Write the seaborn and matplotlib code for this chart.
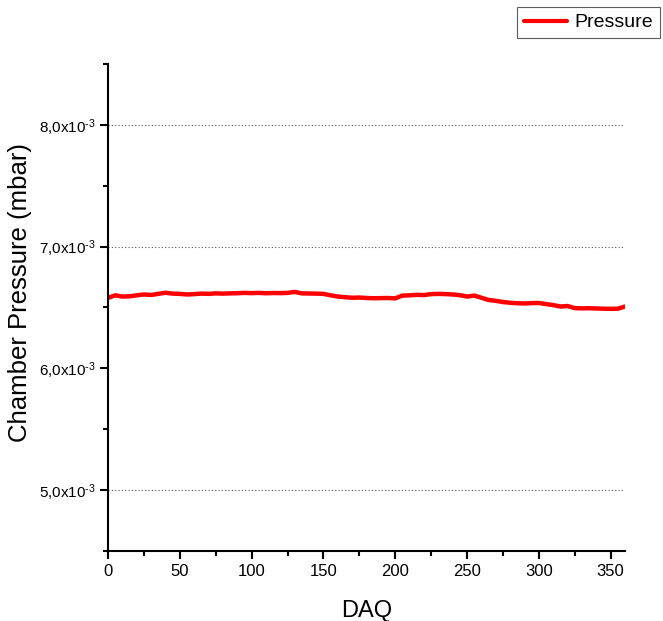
import numpy as np
import pandas as pd
import matplotlib
matplotlib.use("Agg")
import matplotlib.pyplot as plt
import seaborn as sns
from matplotlib.ticker import MultipleLocator, FuncFormatter

# ---- data ----
daq = [0, 5, 10, 15, 20, 25, 30, 35, 40, 45, 50, 55, 60, 65, 70, 75, 80, 85, 90, 95,
       100, 105, 110, 115, 120, 125, 130, 135, 140, 145, 150, 155, 160, 165, 170, 175,
       180, 185, 190, 195, 200, 205, 210, 215, 220, 225, 230, 235, 240, 245, 250, 255,
       260, 265, 270, 275, 280, 285, 290, 295, 300, 305, 310, 315, 320, 325, 330, 335,
       340, 345, 350, 355, 360]
pressure_e3 = [6.579, 6.600, 6.590, 6.592, 6.600, 6.607, 6.603, 6.612, 6.621, 6.614,
               6.612, 6.607, 6.610, 6.614, 6.612, 6.616, 6.614, 6.616, 6.617, 6.620,
               6.618, 6.620, 6.617, 6.619, 6.618, 6.620, 6.628, 6.616, 6.615, 6.614,
               6.612, 6.600, 6.590, 6.585, 6.580, 6.582, 6.578, 6.576, 6.577, 6.578,
               6.575, 6.598, 6.600, 6.604, 6.602, 6.610, 6.612, 6.610, 6.607, 6.601,
               6.590, 6.598, 6.580, 6.562, 6.555, 6.545, 6.539, 6.535, 6.533, 6.536,
               6.537, 6.528, 6.520, 6.508, 6.512, 6.495, 6.493, 6.494, 6.492, 6.490,
               6.489, 6.490, 6.508]
pressure = [v * 1e-3 for v in pressure_e3]
grid_levels = [5e-3, 7e-3, 8e-3]
series_name = "Pressure"
x_label = "DAQ"
y_label = "Chamber Pressure (mbar)"

df = pd.DataFrame({"DAQ": daq, "Pressure": pressure})

sns.set_theme(style="white")
fam = "Liberation Sans"
plt.rcParams["font.family"] = [fam, "DejaVu Sans"]
plt.rcParams["mathtext.fontset"] = "custom"
plt.rcParams["mathtext.rm"] = fam
plt.rcParams["mathtext.it"] = fam
plt.rcParams["mathtext.bf"] = fam
plt.rcParams["text.color"] = "black"
plt.rcParams["axes.labelcolor"] = "black"

fig = plt.figure(figsize=(6.63, 6.21), dpi=100)
ax = fig.add_axes([108 / 663, 1 - 551 / 621, (625 - 108) / 663, (551 - 64) / 621])

for g in grid_levels:
    ax.axhline(g, color="#555555", lw=0.8, ls=(0, (1, 2)), zorder=0)

sns.lineplot(data=df, x="DAQ", y="Pressure", ax=ax, color="#ff0000", lw=3.2,
             label=series_name, legend=False)

ax.set_xlim(0, 360)
ax.set_ylim(4.5e-3, 8.5e-3)
ax.xaxis.set_major_locator(MultipleLocator(50))
ax.xaxis.set_minor_locator(MultipleLocator(25))
ax.yaxis.set_major_locator(MultipleLocator(1e-3))
ax.yaxis.set_minor_locator(MultipleLocator(0.5e-3))


def yfmt(v, pos):
    m = v * 1e3
    return ("%.1f" % m).replace(".", ",") + r"x10$^{\text{-}3}$"


ax.yaxis.set_major_formatter(FuncFormatter(yfmt))

for s in ["top", "right"]:
    ax.spines[s].set_visible(False)
for s in ["left", "bottom"]:
    ax.spines[s].set_color("black")
    ax.spines[s].set_linewidth(1.5)

ax.tick_params(which="major", direction="out", length=6, width=1.5, colors="black",
               labelsize=11, left=True, bottom=True, pad=3)
ax.tick_params(which="minor", direction="out", length=3.5, width=1.5, colors="black",
               left=True, bottom=True)
for lab in ax.get_xticklabels():
    lab.set_fontsize(12)

ax.set_xlabel(x_label, fontsize=17, color="black")
ax.set_ylabel(y_label, fontsize=18.5, color="black")
ax.yaxis.set_label_coords(-0.147, 0.53)
ax.xaxis.set_label_coords(0.5, -0.1)

leg_handle = [plt.Line2D([], [], color="#ff0000", lw=3)]
leg = fig.legend(leg_handle, [series_name], loc="upper right",
                 bbox_to_anchor=(660 / 663, 1 - 7 / 621), frameon=True, fancybox=False,
                 prop={"family": [fam, "DejaVu Sans"], "size": 14},
                 handlelength=2.2, borderpad=0.35, handletextpad=0.4, borderaxespad=0)
leg.get_frame().set_edgecolor("#333333")
leg.get_frame().set_linewidth(0.8)
for t in leg.get_texts():
    t.set_color("black")

fig.savefig("out.png", dpi=100)
